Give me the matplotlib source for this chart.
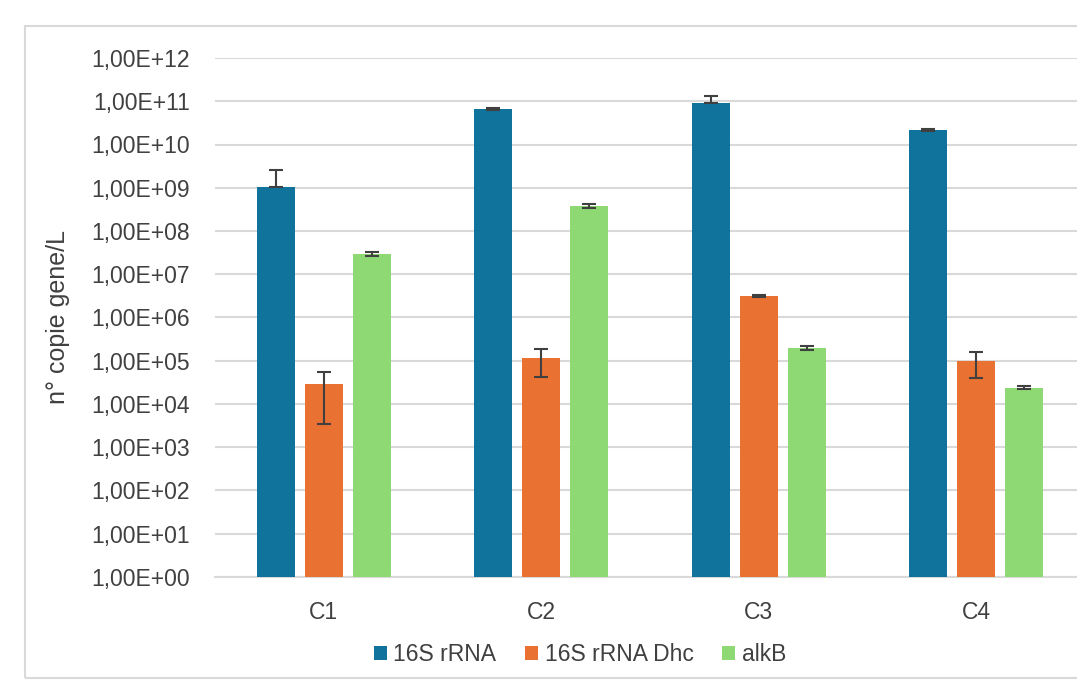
import numpy as np
import matplotlib
matplotlib.use('Agg')
import matplotlib.pyplot as plt
from matplotlib.patches import Rectangle, Patch
from matplotlib.ticker import FixedLocator, FuncFormatter

plt.rcParams['font.family'] = ['Liberation Sans', 'DejaVu Sans']

# Data
categories = ['C1', 'C2', 'C3', 'C4']
series_names = ['16S rRNA', '16S rRNA Dhc', 'alkB']
rrna = [1.05e9, 6.5e10, 8.9e10, 2.16e10]
rrna_err_up = [1.55e9, 0.3e10, 4.5e10, 0.1e10]
rrna_err_low = [0.0, 0.3e10, 0.0, 0.1e10]
dhc = [2.9e4, 1.14e5, 3.15e6, 9.9e4]
dhc_err = [2.55e4, 7.2e4, 0.15e6, 6.0e4]
alkb = [3.0e7, 3.85e8, 2.0e5, 2.4e4]
alkb_err = [0.3e7, 0.45e8, 0.2e5, 0.2e4]

colors = ['#0F739C', '#E97132', '#8ED973']

fig = plt.figure(figsize=(10.77, 6.8), dpi=100)
ax = fig.add_axes([0.1996, 0.1515, 0.8078, 0.7632])

# Outer chart border
fig.patches.append(Rectangle((25 / 1077, 2 / 680), 1.2, 652 / 680, transform=fig.transFigure,
                             fill=False, edgecolor='#D9D9D9', linewidth=1.5))

x = np.arange(len(categories))
width = 0.175
offset = 0.221
values = [rrna, dhc, alkb]
errors = [[rrna_err_low, rrna_err_up], [dhc_err, dhc_err], [alkb_err, alkb_err]]

for i, (vals, (lo, up)) in enumerate(zip(values, errors)):
    ax.bar(x + (i - 1) * offset, vals, width, color=colors[i], zorder=3,
           label=series_names[i])
    ax.errorbar(x + (i - 1) * offset, vals, yerr=[lo, up], fmt='none',
                ecolor='#404040', elinewidth=1.5, capsize=4.8, capthick=1.5, zorder=4)

ax.set_yscale('log')
ax.set_ylim(1, 1e12)
ax.set_xlim(-0.5, 3.5)
ax.yaxis.set_major_locator(FixedLocator([10.0 ** k for k in range(13)]))
ax.yaxis.set_minor_locator(FixedLocator([]))
ax.yaxis.set_major_formatter(FuncFormatter(lambda v, p: '1,00E+%02d' % round(np.log10(v))))
ax.grid(axis='y', color='#D9D9D9', linewidth=1.5, zorder=0)
ax.set_axisbelow(True)

for s in ['top', 'right', 'left']:
    ax.spines[s].set_visible(False)
ax.spines['bottom'].set_color('#D9D9D9')
ax.spines['bottom'].set_linewidth(1.5)

ax.set_xticks(x)
ax.set_xticklabels(categories)
ax.tick_params(axis='both', length=0, labelsize=16.5, labelcolor='#404040')
ax.tick_params(axis='y', pad=18)
ax.tick_params(axis='x', pad=17)

ax.set_ylabel('n° copie gene/L', fontsize=18, color='#404040')
ax.yaxis.set_label_coords(-0.167, 0.5)

handles = [Patch(facecolor=c, edgecolor='none') for c in colors]
fig.legend(handles, series_names, loc='center', bbox_to_anchor=(0.5385, 0.037), ncol=3,
           frameon=False, fontsize=16.5, handlelength=0.55, handleheight=0.55,
           handletextpad=0.3, columnspacing=1.25, labelcolor='#404040')

fig.savefig('out.png', dpi=100)
